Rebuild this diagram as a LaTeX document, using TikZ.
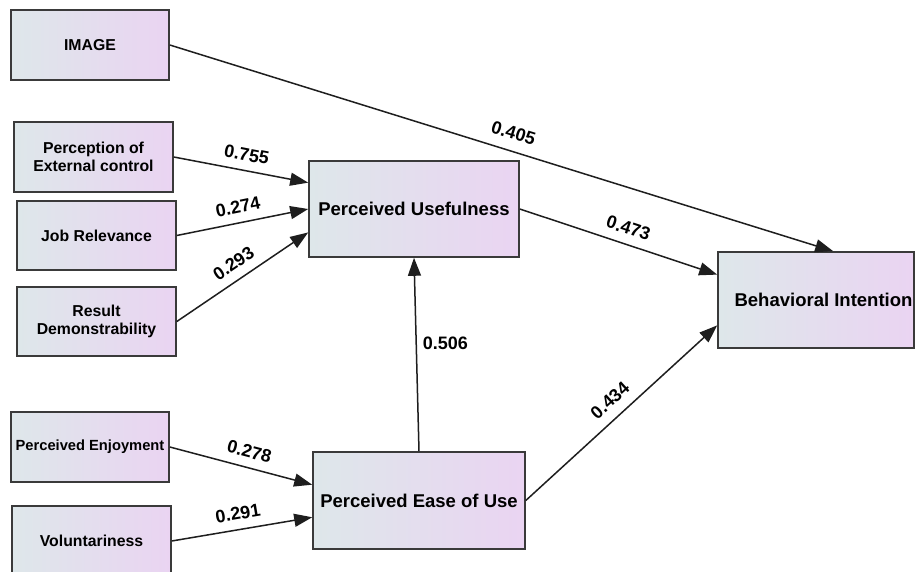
\documentclass[tikz,border=0pt]{standalone}
\usepackage{fontspec}
\setmainfont{Liberation Sans}
\usetikzlibrary{arrows.meta,calc}
\definecolor{boxleft}{HTML}{DEE7EA}
\definecolor{boxright}{HTML}{EAD4F2}
\definecolor{edgecol}{HTML}{3A3A3A}
\definecolor{linecol}{HTML}{1E1E1E}
\begin{document}
\begin{tikzpicture}[x=1pt,y=-1pt,
  box/.style={draw=edgecol, line width=1.6pt, left color=boxleft, right color=boxright,
    inner sep=0pt, align=center, font=\bfseries, text=black},
  small/.style={box, font=\fontsize{15.8}{18.5}\selectfont\bfseries},
  big/.style={box, font=\fontsize{18.5}{21}\selectfont\bfseries},
  conn/.style={draw=linecol, line width=1.5pt, -{Triangle[length=18pt,width=13pt]}},
  lbl/.style={font=\fontsize{18}{20}\selectfont\bfseries, inner sep=2pt, text=black},
  ]
\useasboundingbox (0,0) rectangle (916,572);
\fill[white] (0,0) rectangle (916,572);

\node[small, minimum width=158pt, minimum height=70pt] (img) at (90,45) {IMAGE};
\node[small, minimum width=159pt, minimum height=70pt] (pec) at (93.5,157) {Perception of\\External control};
\node[small, minimum width=159pt, minimum height=69pt] (jr) at (96.5,235.5) {Job Relevance};
\node[small, minimum width=159pt, minimum height=69pt] (rd) at (96.5,321.5) {Result\\Demonstrability};
\node[box, font=\fontsize{14.7}{17}\selectfont\bfseries, minimum width=158pt, minimum height=70pt] (pe) at (90,447) {Perceived Enjoyment};
\node[small, minimum width=159pt, minimum height=70pt] (vol) at (91.5,541) {Voluntariness};

\node[big, minimum width=210pt, minimum height=96pt] (pu) at (414,209) {Perceived Usefulness};
\node[big, minimum width=212pt, minimum height=97pt] (peou) at (419,500.5) {Perceived Ease of Use};
\node[box, minimum width=196pt, minimum height=96pt] (bi) at (816,300) {};
\node[font=\fontsize{18.5}{21}\selectfont\bfseries, inner sep=0pt] (bitext) at (bi.center) [xshift=7.5pt] {Behavioral Intention};

\draw[conn] (img.east) -- node[lbl, sloped, above=9pt, pos=0.51] {0.405} ($(bi.north west)!0.587!(bi.north east)$);
\draw[conn] (pec.east) -- node[lbl, sloped, above=7pt, pos=0.52] {0.755} ($(pu.north west)!0.23!(pu.south west)$);
\draw[conn] (jr.east) -- node[lbl, sloped, above=7pt, pos=0.49] {0.274} (pu.west);
\draw[conn] (rd.east) -- node[lbl, sloped, above=7pt, pos=0.5] {0.293} ($(pu.north west)!0.74!(pu.south west)$);
\draw[conn] (pu.east) -- node[lbl, sloped, above=7pt, pos=0.525] {0.473} ($(bi.north west)!0.24!(bi.south west)$);
\draw[conn] (peou.north) -- node[lbl, right=4pt, pos=0.56] {0.506} (pu.south);
\draw[conn] (peou.east) -- node[lbl, sloped, above=8pt, pos=0.5] {0.434} ($(bi.north west)!0.76!(bi.south west)$);
\draw[conn] (pe.east) -- node[lbl, sloped, above=7pt, pos=0.53] {0.278} ($(peou.north west)!0.34!(peou.south west)$);
\draw[conn] (vol.east) -- node[lbl, sloped, above=7pt, pos=0.49] {0.291} ($(peou.north west)!0.67!(peou.south west)$);
\end{tikzpicture}
\end{document}
